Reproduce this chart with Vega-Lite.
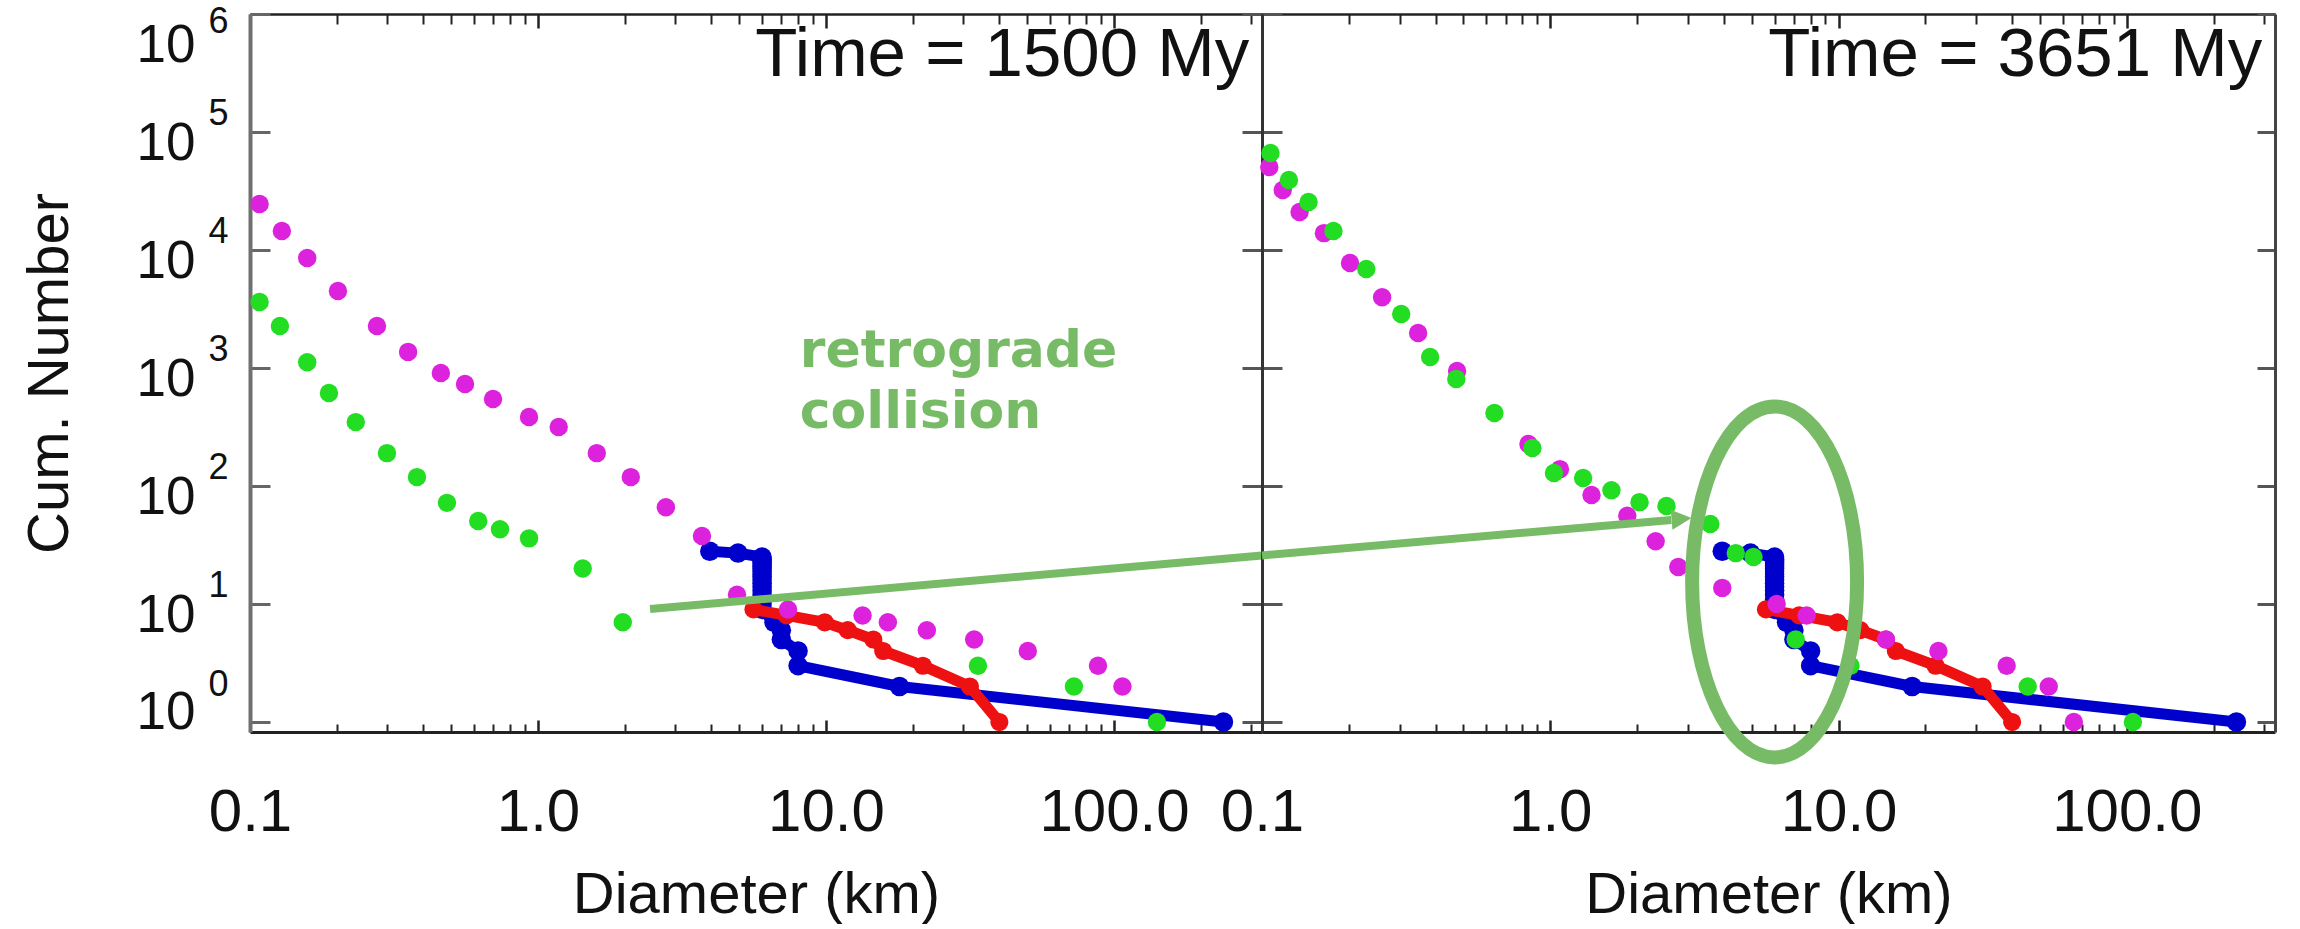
{
  "$schema": "https://vega.github.io/schema/vega-lite/v6.json",
  "background": "white",
  "padding": {"left": 21, "top": 3, "right": 5, "bottom": 0},
  "spacing": 0,
  "bounds": "flush",
  "config": {"view": {"stroke": null}, "axis": {"grid": false}},
  "datasets": {
    "blue": [{"d":3.95,"n":28},{"d":4.95,"n":27},{"d":6.0,"n":25},{"d":6.0,"n":24},{"d":6.0,"n":23},{"d":6.0,"n":22},{"d":6.0,"n":21},{"d":6.0,"n":20},{"d":6.0,"n":19},{"d":6.0,"n":18},{"d":6.0,"n":17},{"d":6.0,"n":16},{"d":6.0,"n":15},{"d":6.0,"n":14},{"d":6.0,"n":13},{"d":6.0,"n":12},{"d":6.0,"n":11},{"d":6.0,"n":10},{"d":6.0,"n":9},{"d":6.6,"n":7},{"d":7.0,"n":6},{"d":7.0,"n":5},{"d":8.0,"n":4},{"d":8.0,"n":3},{"d":18,"n":2},{"d":240,"n":1}],
    "red": [{"d":5.6,"n":9},{"d":7.3,"n":8},{"d":9.9,"n":7},{"d":11.9,"n":6},{"d":14.6,"n":5},{"d":15.8,"n":4},{"d":21.7,"n":3},{"d":31.6,"n":2},{"d":40,"n":1}],
    "mag1": [{"d":0.108,"n":24500},{"d":0.129,"n":14500},{"d":0.158,"n":8550},{"d":0.202,"n":4500},{"d":0.276,"n":2270},{"d":0.354,"n":1370},{"d":0.46,"n":907},{"d":0.558,"n":732},{"d":0.698,"n":546},{"d":0.931,"n":384},{"d":1.18,"n":316},{"d":1.6,"n":190},{"d":2.1,"n":119},{"d":2.78,"n":66},{"d":3.71,"n":37.7},{"d":4.91,"n":12},{"d":7.38,"n":9},{"d":13.4,"n":8},{"d":16.4,"n":7},{"d":22.4,"n":6},{"d":32.7,"n":5},{"d":50.2,"n":4},{"d":88,"n":3},{"d":107,"n":2}],
    "grn1": [{"d":0.108,"n":3620},{"d":0.127,"n":2270},{"d":0.158,"n":1120},{"d":0.188,"n":614},{"d":0.233,"n":348},{"d":0.299,"n":190},{"d":0.38,"n":119},{"d":0.483,"n":72},{"d":0.62,"n":50.5},{"d":0.738,"n":43},{"d":0.931,"n":36},{"d":1.43,"n":20},{"d":1.97,"n":7},{"d":33.7,"n":3},{"d":72.6,"n":2},{"d":141,"n":1}],
    "mag2": [{"d":0.106,"n":50500},{"d":0.118,"n":32200},{"d":0.135,"n":21000},{"d":0.164,"n":13900},{"d":0.202,"n":7760},{"d":0.261,"n":3980},{"d":0.348,"n":1980},{"d":0.475,"n":944},{"d":0.84,"n":227},{"d":1.08,"n":139},{"d":1.39,"n":84},{"d":1.85,"n":56},{"d":2.32,"n":34},{"d":2.78,"n":20.6},{"d":3.95,"n":13.7},{"d":6.1,"n":10},{"d":7.75,"n":8},{"d":14.6,"n":5},{"d":22.2,"n":4},{"d":38.3,"n":3},{"d":53.6,"n":2},{"d":65.5,"n":1}],
    "grn2": [{"d":0.107,"n":66400},{"d":0.124,"n":39200},{"d":0.145,"n":25500},{"d":0.177,"n":14500},{"d":0.23,"n":6900},{"d":0.304,"n":2870},{"d":0.383,"n":1240},{"d":0.472,"n":807},{"d":0.64,"n":416},{"d":0.867,"n":210},{"d":1.03,"n":129},{"d":1.3,"n":117},{"d":1.63,"n":92},{"d":2.04,"n":73},{"d":2.53,"n":67.6},{"d":3.59,"n":47.6},{"d":4.4,"n":27},{"d":5.07,"n":25},{"d":7.1,"n":5},{"d":11.0,"n":3},{"d":45.3,"n":2},{"d":105,"n":1}],
    "arrowL": [{"d":2.45,"n":9.07},{"d":326.6,"n":25.8}],
    "arrowR": [{"d":0.1,"n":25.8},{"d":2.63,"n":51.5}],
    "head": [{"d":3.09,"n":53.6}],
    "ring": [{"d":6.0,"n":15.4}],
    "note": [{"d":8.11,"n":1019,"t":"retrograde\ncollision"}],
    "time1": [{"d":295,"n":300000,"t":"Time = 1500 My"}],
    "time2": [{"d":295,"n":300000,"t":"Time = 3651 My"}]
  },
  "hconcat": [
    {
      "width": 1012,
      "height": 718,
      "resolve": {"axis": {"x": "independent", "y": "independent"}},
      "layer": [
        {
          "data": {"name": "blue"},
          "mark": {"type": "line", "color": "#0000CC", "strokeWidth": 11},
          "encoding": {
            "x": {"field": "d", "type": "quantitative", "scale": {"type": "log", "domain": [0.1, 326.6], "nice": false},
              "axis": {"orient": "bottom", "values": [0.1, 1, 10, 100], "format": ".1f", "labelFlush": false, "labelOverlap": false, "labelBound": false, "tickSize": -12, "tickWidth": 2.5, "tickColor": "#222222", "domainColor": "#222222", "domainWidth": 3, "labelFont": "Liberation Sans", "labelFontSize": 60, "labelColor": "#111111", "labelPadding": 63, "title": "Diameter (km)", "titleFont": "Liberation Sans", "titleFontSize": 58, "titleFontWeight": "normal", "titleColor": "#111111", "titleY": 180, "titleBaseline": "alphabetic", "grid": false}},
            "y": {"field": "n", "type": "quantitative", "scale": {"type": "log", "domain": [0.823, 1000000], "nice": false},
              "axis": {"orient": "left", "values": [1, 10, 100, 1000, 10000, 100000, 1000000], "labelExpr": "'10'", "tickSize": -20, "tickWidth": 3, "tickColor": "#666666", "domainColor": "#707070", "domainWidth": 4, "labelFont": "Liberation Sans", "labelFontSize": 53, "labelColor": "#111111", "labelPadding": 75, "labelOffset": 11, "labelFlush": 12, "labelFlushOffset": 6, "labelOverlap": false, "labelAlign": "right", "title": "Cum. Number", "titleFont": "Liberation Sans", "titleFontSize": 58, "titleFontWeight": "normal", "titleColor": "#111111", "titleX": -183, "titleY": 359, "titleAngle": 270, "titleBaseline": "alphabetic", "titleAlign": "center", "grid": false}},
            "order": {"field": "n", "sort": "descending"}
          }
        },
        {
          "data": {"name": "blue"},
          "mark": {"type": "circle", "color": "#0000CC", "size": 380, "opacity": 1},
          "encoding": {
            "x": {"field": "d", "type": "quantitative", "scale": {"type": "log", "domain": [0.1, 326.6], "nice": false},
              "axis": {"orient": "bottom", "values": [0.2,0.3,0.4,0.5,0.6,0.7,0.8,0.9,2,3,4,5,6,7,8,9,20,30,40,50,60,70,80,90,200,300], "tickSize": -8, "tickWidth": 2, "tickColor": "#222222", "labels": false, "domain": false, "title": null, "grid": false}},
            "y": {"field": "n", "type": "quantitative", "scale": {"type": "log", "domain": [0.823, 1000000], "nice": false},
              "axis": {"orient": "left", "values": [1, 10, 100, 1000, 10000, 100000], "labelExpr": "'' + round(log(datum.value)/LN10)", "ticks": false, "domain": false, "labelFont": "Liberation Sans", "labelFontSize": 36, "labelColor": "#111111", "labelPadding": 22, "labelOffset": -19, "labelFlush": 12, "labelFlushOffset": 0, "labelOverlap": false, "labelAlign": "right", "title": null, "grid": false}}
          }
        },
        {
          "data": {"name": "red"},
          "mark": {"type": "line", "color": "#EE1111", "strokeWidth": 11},
          "encoding": {
            "x": {"field": "d", "type": "quantitative", "scale": {"type": "log", "domain": [0.1, 326.6], "nice": false},
              "axis": {"orient": "top", "values": [0.1, 1, 10, 100], "tickSize": -14, "tickWidth": 2.5, "tickColor": "#222222", "labels": false, "domainColor": "#222222", "domainWidth": 2.5, "title": null, "grid": false}},
            "y": {"field": "n", "type": "quantitative", "scale": {"type": "log", "domain": [0.823, 1000000], "nice": false},
              "axis": {"orient": "right", "values": [1, 10, 100, 1000, 10000, 100000, 1000000], "tickSize": -20, "tickWidth": 3, "tickColor": "#555555", "labels": false, "domainColor": "#333333", "domainWidth": 3, "title": null, "grid": false}},
            "order": {"field": "n", "sort": "descending"}
          }
        },
        {
          "data": {"name": "red"},
          "mark": {"type": "circle", "color": "#EE1111", "size": 330, "opacity": 1},
          "encoding": {
            "x": {"field": "d", "type": "quantitative", "scale": {"type": "log", "domain": [0.1, 326.6], "nice": false},
              "axis": {"orient": "top", "values": [0.2,0.3,0.4,0.5,0.6,0.7,0.8,0.9,2,3,4,5,6,7,8,9,20,30,40,50,60,70,80,90,200,300], "tickSize": -10, "tickWidth": 2, "tickColor": "#222222", "labels": false, "domain": false, "title": null, "grid": false}},
            "y": {"field": "n", "type": "quantitative", "scale": {"type": "log", "domain": [0.823, 1000000], "nice": false},
              "axis": {"orient": "left", "values": [1000000], "labelExpr": "'6'", "ticks": false, "domain": false, "labelFont": "Liberation Sans", "labelFontSize": 36, "labelColor": "#111111", "labelPadding": 22, "labelOffset": -10, "labelFlush": true, "labelFlushOffset": 0, "labelOverlap": false, "labelAlign": "right", "title": null, "grid": false}}
          }
        },
        {
          "data": {"name": "mag1"},
          "mark": {"type": "circle", "color": "#DD22DD", "size": 340, "opacity": 1},
          "encoding": {
            "x": {"field": "d", "type": "quantitative", "scale": {"type": "log", "domain": [0.1, 326.6], "nice": false}, "axis": null},
            "y": {"field": "n", "type": "quantitative", "scale": {"type": "log", "domain": [0.823, 1000000], "nice": false}, "axis": null}
          }
        },
        {
          "data": {"name": "grn1"},
          "mark": {"type": "circle", "color": "#22DD22", "size": 340, "opacity": 1},
          "encoding": {
            "x": {"field": "d", "type": "quantitative", "scale": {"type": "log", "domain": [0.1, 326.6], "nice": false}, "axis": null},
            "y": {"field": "n", "type": "quantitative", "scale": {"type": "log", "domain": [0.823, 1000000], "nice": false}, "axis": null}
          }
        },
        {
          "data": {"name": "arrowL"},
          "mark": {"type": "line", "color": "#77BB66", "strokeWidth": 8, "strokeCap": "butt"},
          "encoding": {
            "x": {"field": "d", "type": "quantitative", "scale": {"type": "log", "domain": [0.1, 326.6], "nice": false}, "axis": null},
            "y": {"field": "n", "type": "quantitative", "scale": {"type": "log", "domain": [0.823, 1000000], "nice": false}, "axis": null}
          }
        },
        {
          "data": {"name": "note"},
          "mark": {"type": "text", "align": "left", "baseline": "alphabetic", "font": "DejaVu Sans", "fontWeight": "bold", "fontSize": 52, "color": "#77BB66", "lineBreak": "\n", "lineHeight": 61},
          "encoding": {
            "x": {"field": "d", "type": "quantitative", "scale": {"type": "log", "domain": [0.1, 326.6], "nice": false}, "axis": null},
            "y": {"field": "n", "type": "quantitative", "scale": {"type": "log", "domain": [0.823, 1000000], "nice": false}, "axis": null},
            "text": {"field": "t"}
          }
        },
        {
          "data": {"name": "time1"},
          "mark": {"type": "text", "align": "right", "baseline": "alphabetic", "font": "Liberation Sans", "fontSize": 69, "color": "#111111"},
          "encoding": {
            "x": {"field": "d", "type": "quantitative", "scale": {"type": "log", "domain": [0.1, 326.6], "nice": false}, "axis": null},
            "y": {"field": "n", "type": "quantitative", "scale": {"type": "log", "domain": [0.823, 1000000], "nice": false}, "axis": null},
            "text": {"field": "t"}
          }
        }
      ]
    },
    {
      "width": 1013,
      "height": 718,
      "resolve": {"axis": {"x": "independent", "y": "independent"}},
      "layer": [
        {
          "data": {"name": "blue"},
          "mark": {"type": "line", "color": "#0000CC", "strokeWidth": 11},
          "encoding": {
            "x": {"field": "d", "type": "quantitative", "scale": {"type": "log", "domain": [0.1, 326.6], "nice": false},
              "axis": {"orient": "bottom", "values": [0.1, 1, 10, 100], "format": ".1f", "labelFlush": false, "labelOverlap": false, "labelBound": false, "tickSize": -12, "tickWidth": 2.5, "tickColor": "#222222", "domainColor": "#222222", "domainWidth": 3, "labelFont": "Liberation Sans", "labelFontSize": 60, "labelColor": "#111111", "labelPadding": 63, "title": "Diameter (km)", "titleFont": "Liberation Sans", "titleFontSize": 58, "titleFontWeight": "normal", "titleColor": "#111111", "titleY": 180, "titleBaseline": "alphabetic", "grid": false}},
            "y": {"field": "n", "type": "quantitative", "scale": {"type": "log", "domain": [0.823, 1000000], "nice": false},
              "axis": {"orient": "left", "values": [1, 10, 100, 1000, 10000, 100000, 1000000], "tickSize": -20, "tickWidth": 3, "tickColor": "#555555", "labels": false, "domainColor": "#333333", "domainWidth": 3, "title": null, "grid": false}},
            "order": {"field": "n", "sort": "descending"}
          }
        },
        {
          "data": {"name": "blue"},
          "mark": {"type": "circle", "color": "#0000CC", "size": 380, "opacity": 1},
          "encoding": {
            "x": {"field": "d", "type": "quantitative", "scale": {"type": "log", "domain": [0.1, 326.6], "nice": false},
              "axis": {"orient": "bottom", "values": [0.2,0.3,0.4,0.5,0.6,0.7,0.8,0.9,2,3,4,5,6,7,8,9,20,30,40,50,60,70,80,90,200,300], "tickSize": -8, "tickWidth": 2, "tickColor": "#222222", "labels": false, "domain": false, "title": null, "grid": false}},
            "y": {"field": "n", "type": "quantitative", "scale": {"type": "log", "domain": [0.823, 1000000], "nice": false},
              "axis": {"orient": "right", "values": [1, 10, 100, 1000, 10000, 100000, 1000000], "tickSize": -18, "tickWidth": 3, "tickColor": "#555555", "labels": false, "domainColor": "#444444", "domainWidth": 3, "title": null, "grid": false}}
          }
        },
        {
          "data": {"name": "red"},
          "mark": {"type": "line", "color": "#EE1111", "strokeWidth": 11},
          "encoding": {
            "x": {"field": "d", "type": "quantitative", "scale": {"type": "log", "domain": [0.1, 326.6], "nice": false},
              "axis": {"orient": "top", "values": [0.1, 1, 10, 100], "tickSize": -14, "tickWidth": 2.5, "tickColor": "#222222", "labels": false, "domainColor": "#222222", "domainWidth": 2.5, "title": null, "grid": false}},
            "y": {"field": "n", "type": "quantitative", "scale": {"type": "log", "domain": [0.823, 1000000], "nice": false}, "axis": null},
            "order": {"field": "n", "sort": "descending"}
          }
        },
        {
          "data": {"name": "red"},
          "mark": {"type": "circle", "color": "#EE1111", "size": 330, "opacity": 1},
          "encoding": {
            "x": {"field": "d", "type": "quantitative", "scale": {"type": "log", "domain": [0.1, 326.6], "nice": false},
              "axis": {"orient": "top", "values": [0.2,0.3,0.4,0.5,0.6,0.7,0.8,0.9,2,3,4,5,6,7,8,9,20,30,40,50,60,70,80,90,200,300], "tickSize": -10, "tickWidth": 2, "tickColor": "#222222", "labels": false, "domain": false, "title": null, "grid": false}},
            "y": {"field": "n", "type": "quantitative", "scale": {"type": "log", "domain": [0.823, 1000000], "nice": false}, "axis": null}
          }
        },
        {
          "data": {"name": "mag2"},
          "mark": {"type": "circle", "color": "#DD22DD", "size": 340, "opacity": 1},
          "encoding": {
            "x": {"field": "d", "type": "quantitative", "scale": {"type": "log", "domain": [0.1, 326.6], "nice": false}, "axis": null},
            "y": {"field": "n", "type": "quantitative", "scale": {"type": "log", "domain": [0.823, 1000000], "nice": false}, "axis": null}
          }
        },
        {
          "data": {"name": "grn2"},
          "mark": {"type": "circle", "color": "#22DD22", "size": 340, "opacity": 1},
          "encoding": {
            "x": {"field": "d", "type": "quantitative", "scale": {"type": "log", "domain": [0.1, 326.6], "nice": false}, "axis": null},
            "y": {"field": "n", "type": "quantitative", "scale": {"type": "log", "domain": [0.823, 1000000], "nice": false}, "axis": null}
          }
        },
        {
          "data": {"name": "arrowR"},
          "mark": {"type": "line", "color": "#77BB66", "strokeWidth": 8, "strokeCap": "butt"},
          "encoding": {
            "x": {"field": "d", "type": "quantitative", "scale": {"type": "log", "domain": [0.1, 326.6], "nice": false}, "axis": null},
            "y": {"field": "n", "type": "quantitative", "scale": {"type": "log", "domain": [0.823, 1000000], "nice": false}, "axis": null}
          }
        },
        {
          "data": {"name": "head"},
          "mark": {"type": "point", "shape": "M 0 0 L -2 -1 L -2 1 Z", "filled": true, "color": "#77BB66", "size": 400, "angle": -5, "opacity": 1},
          "encoding": {
            "x": {"field": "d", "type": "quantitative", "scale": {"type": "log", "domain": [0.1, 326.6], "nice": false}, "axis": null},
            "y": {"field": "n", "type": "quantitative", "scale": {"type": "log", "domain": [0.823, 1000000], "nice": false}, "axis": null}
          }
        },
        {
          "data": {"name": "ring"},
          "mark": {"type": "point", "shape": "M 0 -1 C 0.2596 -1 0.47 -0.5523 0.47 0 C 0.47 0.5523 0.2596 1 0 1 C -0.2596 1 -0.47 0.5523 -0.47 0 C -0.47 -0.5523 -0.2596 -1 0 -1 Z", "filled": false, "stroke": "#77BB66", "strokeWidth": 14, "size": 123201, "opacity": 1},
          "encoding": {
            "x": {"field": "d", "type": "quantitative", "scale": {"type": "log", "domain": [0.1, 326.6], "nice": false}, "axis": null},
            "y": {"field": "n", "type": "quantitative", "scale": {"type": "log", "domain": [0.823, 1000000], "nice": false}, "axis": null}
          }
        },
        {
          "data": {"name": "time2"},
          "mark": {"type": "text", "align": "right", "baseline": "alphabetic", "font": "Liberation Sans", "fontSize": 69, "color": "#111111"},
          "encoding": {
            "x": {"field": "d", "type": "quantitative", "scale": {"type": "log", "domain": [0.1, 326.6], "nice": false}, "axis": null},
            "y": {"field": "n", "type": "quantitative", "scale": {"type": "log", "domain": [0.823, 1000000], "nice": false}, "axis": null},
            "text": {"field": "t"}
          }
        }
      ]
    }
  ]
}
